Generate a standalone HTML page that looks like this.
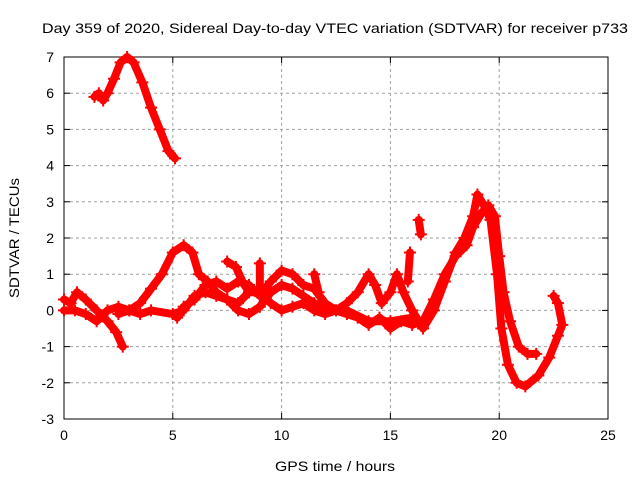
<!DOCTYPE html>
<html><head><meta charset="utf-8"><style>
body{margin:0;background:#fff}
svg text{font-family:"Liberation Sans",sans-serif;font-size:14px;fill:#000}
</style></head><body>
<svg id="c" width="640" height="480" xmlns="http://www.w3.org/2000/svg">
<text x="42" y="33" textLength="586" lengthAdjust="spacingAndGlyphs">Day 359 of 2020, Sidereal Day-to-day VTEC variation (SDTVAR) for receiver p733</text>
<text x="275" y="471" textLength="120" lengthAdjust="spacingAndGlyphs">GPS time / hours</text>
<text transform="translate(19,238) rotate(-90)" text-anchor="middle" textLength="120" lengthAdjust="spacingAndGlyphs">SDTVAR / TECUs</text>
<g id="grid"></g>
<g id="axes"></g>
<g id="series"></g>
</svg>
<script>
const xTicks=[0,5,10,15,20,25];
const yTicks=[-3,-2,-1,0,1,2,3,4,5,6,7];
const trackAHours=[1.4,1.6,1.8,2.0,2.3,2.6,2.9,3.2,3.6,4.0,4.4,4.8,5.1];
const trackAValues=[5.9,6.0,5.8,6.0,6.4,6.85,7.0,6.85,6.3,5.6,5.0,4.4,4.2];
const trackBHours=[2.5,3.0,3.5,4.0,4.5,5.0,5.5,5.9,6.2,6.6,7.0,7.5,8.0,8.5,9.0,9.5,10.0,10.5,11.0,11.5,12,13,14,15,16];
const trackBValues=[-0.1,0.0,0.2,0.6,1.0,1.6,1.8,1.6,1.0,0.8,0.5,0.3,0.0,-0.1,0.1,0.5,0.7,0.6,0.4,0.2,0.1,0.0,-0.3,-0.3,-0.2];
const trackCHours=[0,0.3,0.6,1.0,1.5,2.0,2.4,2.7];
const trackCValues=[0.3,0.2,0.5,0.3,0.0,-0.3,-0.6,-1.0];
const trackDHours=[0,0.5,1,1.5,2,2.5,3,3.5,4,5,5.5,6,6.5,7,7.5,8,8.5,9,9.5,10,10.5,11,11.5,12,12.5,13,13.5,14,14.3,14.6,15,15.3,15.6,16,16.5,17,17.5,18,18.4,18.8,19.0,19.3,19.6,19.9,20.1,20.4,20.8,21.2,21.8,22.3,22.7,22.9,22.7,22.5];
const trackDValues=[0.0,0.0,-0.1,-0.3,0.0,0.1,0.0,-0.1,0.0,-0.1,0.0,0.4,0.5,0.4,0.3,0.2,0.5,0.5,0.2,0.0,0.1,0.2,0.0,-0.1,0.0,0.2,0.5,1.0,0.7,0.2,0.5,1.0,0.5,0.0,-0.5,0.0,0.8,1.6,2.0,2.6,3.2,2.9,2.5,1.0,-0.5,-1.5,-2.0,-2.1,-1.8,-1.3,-0.7,-0.4,0.2,0.4];
const trackEHours=[5.2,5.5,6.0,6.5,7.0,7.5,8.0,8.5,9.0,9.5,10,10.5,11,11.5,12,12.5,13,13.5,14,14.5,15,15.5,16,16.5,17,17.5,18,18.5,18.8,19.2,19.5,19.8,20.0,20.2,20.5,20.9,21.3,21.7];
const trackEValues=[-0.2,0.1,0.3,0.7,0.8,0.6,0.8,0.7,0.4,0.8,1.1,1.0,0.7,0.6,0.2,0.0,-0.1,-0.2,-0.4,-0.2,-0.5,-0.3,-0.4,-0.3,0.3,1.0,1.5,1.8,2.3,2.7,2.9,2.6,1.5,0.5,-0.3,-1.0,-1.2,-1.2];
const spikeFHours=[7.5,7.9,8.2,8.5], spikeFValues=[1.35,1.2,0.8,0.5];
const spikeGHours=[9.0,9.0], spikeGValues=[1.3,0.6];
const spikeHHours=[16.3,16.4], spikeHValues=[2.5,2.1];
const spikeIHours=[15.9,15.8], spikeIValues=[1.6,0.8];
const spikeJHours=[11.5,11.7], spikeJValues=[1.0,0.5];

const L=64,R=608,T=57,B=419;
const sx=v=>L+(v-0)/25*(R-L);
const sy=v=>B-(v+3)/10*(B-T);
const NS='http://www.w3.org/2000/svg';
function mk(tag,parent,attrs){const e=document.createElementNS(NS,tag);for(const k in attrs)e.setAttribute(k,attrs[k]);parent.appendChild(e);return e;}
const grid=document.getElementById('grid'),axes=document.getElementById('axes'),ser=document.getElementById('series');
xTicks.forEach(t=>{const x=sx(t);
 if(t>0&&t<25){const g=mk('line',grid,{x1:x,x2:x,y1:T,y2:B,stroke:'#a0a0a0','stroke-dasharray':'3,3'});
 }
 mk('line',axes,{x1:x,x2:x,y1:B,y2:B-6,stroke:'#000'});mk('line',axes,{x1:x,x2:x,y1:T,y2:T+6,stroke:'#000'});
 const tx=mk('text',axes,{x:x,y:B+21,'text-anchor':'middle'});tx.textContent=t;
 });
yTicks.forEach(t=>{const y=sy(t);
 if(t>-3&&t<7){const g=mk('line',grid,{x1:L,x2:R,y1:y,y2:y,stroke:'#a0a0a0','stroke-dasharray':'3,3'});
 }
 mk('line',axes,{x1:L,x2:L+6,y1:y,y2:y,stroke:'#000'});mk('line',axes,{x1:R,x2:R-6,y1:y,y2:y,stroke:'#000'});
 const tx=mk('text',axes,{x:L-10,y:y+5,'text-anchor':'end'});tx.textContent=t;
 });
const fr=mk('rect',axes,{x:L,y:T,width:R-L,height:B-T,fill:'none',stroke:'#000'});

const tracks=[[trackAHours,trackAValues],[trackBHours,trackBValues],[trackCHours,trackCValues],[trackDHours,trackDValues],[trackEHours,trackEValues],[spikeFHours,spikeFValues],[spikeGHours,spikeGValues],[spikeHHours,spikeHValues],[spikeIHours,spikeIValues],[spikeJHours,spikeJValues]];
tracks.forEach(([h,v])=>{
 const pts=h.map((x,i)=>sx(x)+','+sy(v[i])).join(' ');
 const pl=mk('polyline',ser,{points:pts,fill:'none',stroke:'#ff0000','stroke-width':8,'stroke-linejoin':'round','stroke-linecap':'round'});
 
 
 h.forEach((x,i)=>{const cx=sx(x),cy=sy(v[i]);
  const p=mk('path',ser,{d:`M${cx-6},${cy}H${cx+6}M${cx},${cy-6}V${cy+6}`,stroke:'#ff0000','stroke-width':2});
  
  });
});
</script>
</body></html>
